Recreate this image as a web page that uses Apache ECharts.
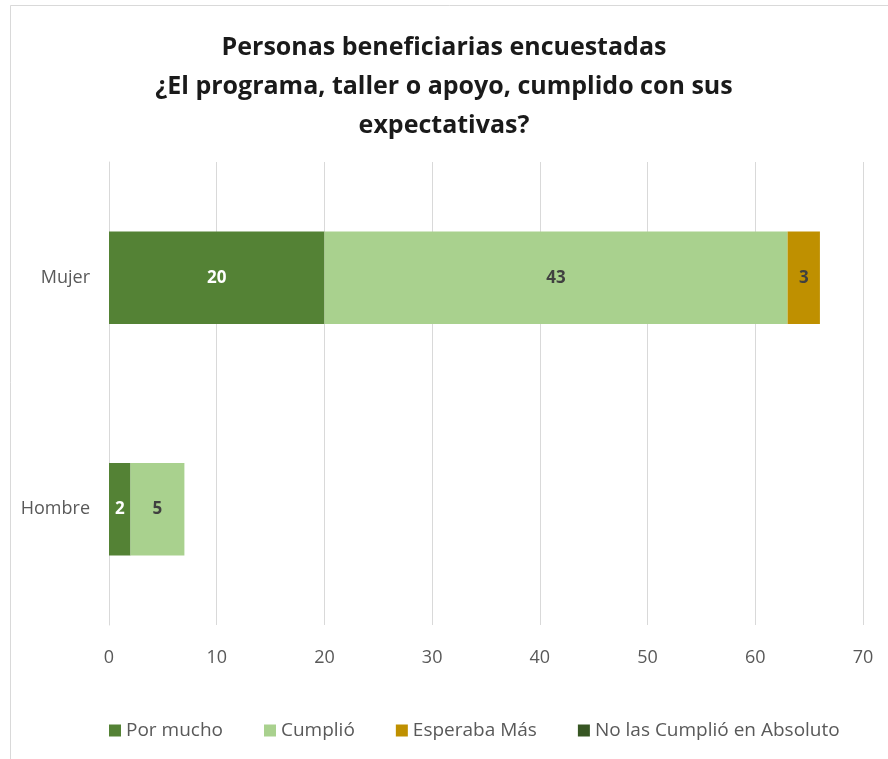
<!DOCTYPE html>
<html>
<head>
<meta charset="utf-8">
<script src="https://cdn.jsdelivr.net/npm/echarts@6/dist/echarts.min.js"></script>
<style>
  html, body { margin: 0; padding: 0; background: #fff; }
  #main { width: 888px; height: 759px; }
</style>
</head>
<body>
<div id="main"></div>
<script>
var categories = ['Hombre', 'Mujer'];
var seriesNames = ['Por mucho', 'Cumplió', 'Esperaba Más', 'No las Cumplió en Absoluto'];
var porMucho = [2, 20];
var cumplio = [5, 43];
var esperabaMas = [null, 3];
var noCumplio = [null, null];
var xTicks = [0, 10, 20, 30, 40, 50, 60, 70];

var chart = echarts.init(document.getElementById('main'));

var colors = ['#548235', '#A9D18E', '#BF9000', '#375623'];
var labelColors = ['#ffffff', '#404040', '#404040', '#ffffff'];
var values = [porMucho, cumplio, esperabaMas, noCumplio];

var series = [];
for (var i = 0; i < seriesNames.length; i++) {
    series.push({
        name: seriesNames[i],
        type: 'bar',
        stack: 'total',
        barWidth: '40%',
        data: values[i],
        itemStyle: { color: colors[i] },
        label: {
            show: true,
            position: 'inside',
            color: labelColors[i],
            fontFamily: 'Open Sans',
            fontWeight: 'bold',
            fontSize: 17
        }
    });
}

var option = {
    animation: false,
    backgroundColor: '#fff',
    graphic: [{
        type: 'rect',
        shape: { x: 10.5, y: 5.5, width: 900, height: 800 },
        style: { fill: 'none', stroke: '#d9d9d9', lineWidth: 1 },
        silent: true
    }],
    title: {
        text: 'Personas beneficiarias encuestadas\n¿El programa, taller o apoyo, cumplido con sus\nexpectativas?',
        left: 'center',
        top: 23,
        textStyle: {
            fontFamily: 'Open Sans',
            fontWeight: 'bold',
            fontSize: 25,
            lineHeight: 39,
            color: '#1a1a1a'
        }
    },
    legend: {
        bottom: 14,
        left: 104,
        itemWidth: 12,
        itemHeight: 12,
        itemGap: 41,
        icon: 'rect',
        textStyle: { fontFamily: 'Open Sans', fontSize: 19, color: '#595959' },
        data: seriesNames
    },
    grid: {
        left: 109,
        right: 25,
        top: 162,
        bottom: 134,
        containLabel: false
    },
    xAxis: {
        type: 'value',
        min: xTicks[0],
        max: xTicks[xTicks.length - 1],
        interval: 10,
        axisLine: { show: false },
        axisTick: { show: false },
        splitLine: { lineStyle: { color: '#d9d9d9', width: 1 } },
        axisLabel: { fontFamily: 'Open Sans', fontSize: 18, color: '#595959', margin: 24 }
    },
    yAxis: {
        type: 'category',
        data: categories,
        axisLine: { show: true, lineStyle: { color: '#d9d9d9' } },
        axisTick: { show: false },
        axisLabel: { fontFamily: 'Open Sans', fontSize: 18, color: '#595959', margin: 19 }
    },
    series: series
};

chart.setOption(option);
</script>
</body>
</html>
